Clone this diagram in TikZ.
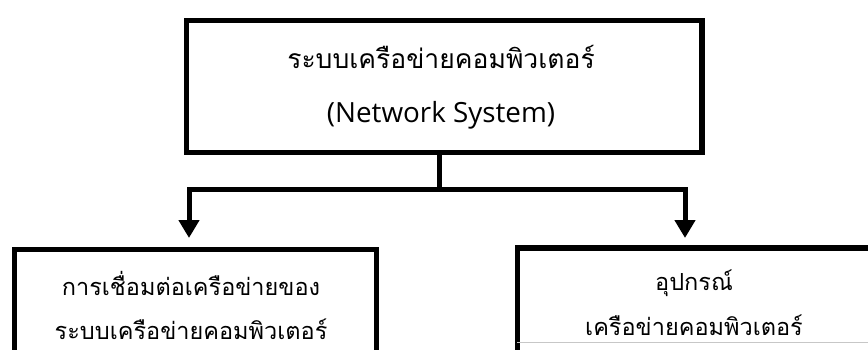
\documentclass[tikz,border=0pt]{standalone}
\usepackage{fontspec}
\setmainfont{Open Sans}
\newfontfamily\thaifont[Script=Thai]{Loma}
\usetikzlibrary{arrows.meta}
\begin{document}
\begin{tikzpicture}[x=1pt,y=-1pt,
  box/.style={draw, line width=5.5pt, inner sep=0pt, anchor=north west},
  conn/.style={line width=5pt, line join=miter, >={Triangle[width=20pt,length=18pt]}},
  thaibig/.style={font=\thaifont\fontsize{26.5}{26.5}\selectfont, inner sep=0pt, anchor=base},
  thaismall/.style={font=\thaifont\fontsize{23.5}{23.5}\selectfont, inner sep=0pt, anchor=base},
  latin/.style={font=\fontsize{27.8}{27.8}\selectfont, inner sep=0pt, anchor=base},
 ]
\useasboundingbox (0,0) rectangle (868,349);
% boxes
\node[box, minimum width=515.5pt, minimum height=132pt] (top) at (183.5,17.5) {};
\node[box, minimum width=362pt, minimum height=160pt] (left) at (11.5,246.5) {};
\node[box, minimum width=400pt, minimum height=160pt] (right) at (514.5,245) {};
% texts
\node[thaibig] (t1) at (441,68) {ระบบเครือข่ายคอมพิวเตอร์};
\node[latin] (t2) at (441,122) {(Network System)};
\node[thaismall] (l1) at (191,295) {การเชื่อมต่อเครือข่ายของ};
\node[thaismall] (l2) at (191,339) {ระบบเครือข่ายคอมพิวเตอร์};
\node[thaismall] (r1) at (694,290) {อุปกรณ์};
\node[thaismall] (r2) at (694,335) {เครือข่ายคอมพิวเตอร์};
% connectors
\coordinate (j) at (439,189.5);
\coordinate (jl) at (189,189.5);
\coordinate (jr) at (685,189.5);
\coordinate (lt) at (189,238);
\coordinate (rt) at (685,238);
\draw[conn] (j |- top.south) -- (j);
\draw[conn, <->] (lt) -- (jl) -- (jr) -- (rt);
% faint line inside right box
\coordinate (g) at (517,342);
\draw[black!22, line width=0.8pt] (g) -- (g -| right.east);
\end{tikzpicture}
\end{document}
